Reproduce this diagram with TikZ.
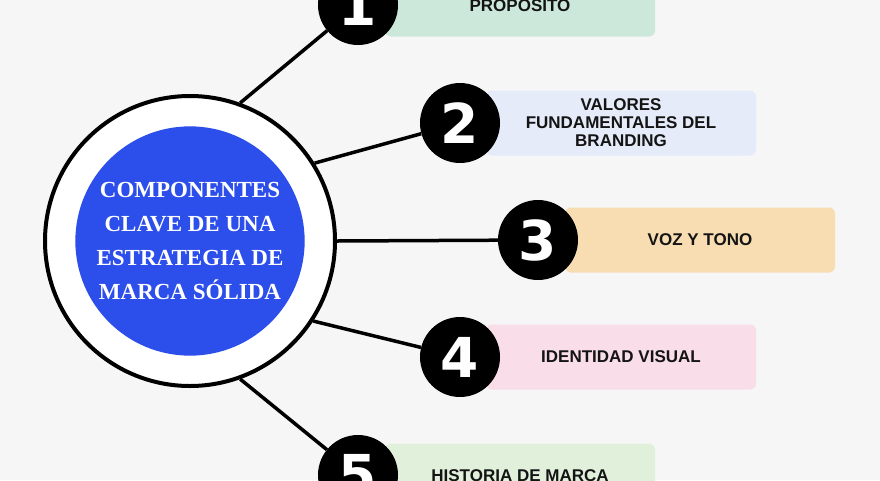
\documentclass[tikz,border=0pt]{standalone}
\usepackage{fontspec}
\setmainfont{Liberation Serif}
\setsansfont{Liberation Sans}
\newfontfamily\digitfont{DejaVu Sans}
\usepackage{tikz}
\usetikzlibrary{calc, positioning}
\usepackage{xcolor}
\definecolor{bgray}{RGB}{246,246,246}
\definecolor{coreblue}{RGB}{44,78,234}
\definecolor{boxgreen}{RGB}{204,232,218}
\definecolor{boxlav}{RGB}{229,235,249}
\definecolor{boxsand}{RGB}{248,221,178}
\definecolor{boxpink}{RGB}{249,221,232}
\definecolor{boxmint}{RGB}{225,240,219}
\definecolor{inkblack}{RGB}{20,20,20}

\tikzset{
  itembox/.style={rectangle, rounded corners=6pt, minimum width=270pt, minimum height=65pt,
    align=center, text=inkblack, font=\sffamily\bfseries\fontsize{17}{18}\selectfont},
  numdisc/.style={circle, fill=black, minimum size=80pt, inner sep=0pt, text=white,
    font=\digitfont\bfseries\fontsize{55}{55}\selectfont},
  spoke/.style={line width=3.5pt, black}
}

\begin{document}
\begin{tikzpicture}[x=1pt, y=-1pt]
			\useasboundingbox (0,0) rectangle (880,480);
			\fill[bgray] (0,0) rectangle (880,480);
			% boxes
			\node[itembox, fill=boxgreen] (b1) at (520,4) {PROPÓSITO};
			\node[itembox, fill=boxlav] (b2) at (621,123) {VALORES\\FUNDAMENTALES DEL\\BRANDING};
			\node[itembox, fill=boxsand] (b3) at (700,240) {VOZ Y TONO};
			\node[itembox, fill=boxpink] (b4) at (621,357) {IDENTIDAD VISUAL};
			\node[itembox, fill=boxmint] (b5) at (520,476) {HISTORIA DE MARCA};
			% hub
			\node[circle, draw=black, line width=4pt, fill=white, minimum size=290pt] (hub) at (190,241) {};
			\node[circle, fill=coreblue, minimum size=229pt, text=white, align=center,
			  font=\bfseries\fontsize{23}{34}\selectfont] (core) at (hub) {COMPONENTES\\CLAVE DE UNA\\ESTRATEGIA DE\\MARCA SÓLIDA};
			% number discs
			\node[numdisc] (n1) at (358,5) {1};
			\node[numdisc] (n2) at (460,123) {2};
			\node[numdisc] (n3) at (538,240) {3};
			\node[numdisc] (n4) at (460,357) {4};
			\node[numdisc] (n5) at (358,475) {5};
			% spokes
			\draw[spoke] (hub.70) -- (n1);
			\draw[spoke] (hub.32) -- (n2);
			\draw[spoke] (hub.0) -- (n3);
			\draw[spoke] (hub.-33) -- (n4);
			\draw[spoke] (hub.-70) -- (n5);
		\end{tikzpicture}
\end{document}
